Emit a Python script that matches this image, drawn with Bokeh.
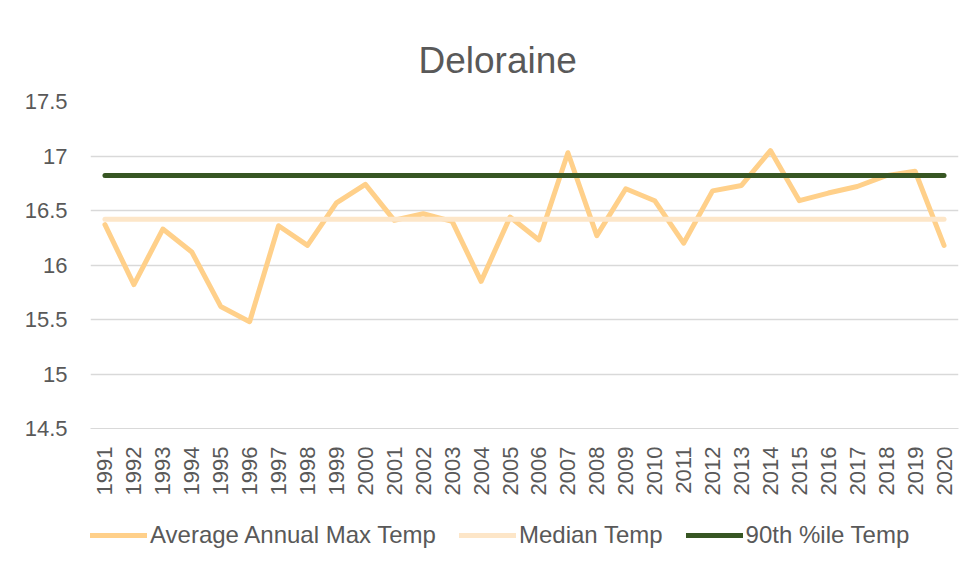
import math
from bokeh.plotting import figure
from bokeh.layouts import column
from bokeh.models import FactorRange, Range1d, FixedTicker, NumeralTickFormatter, Legend, LegendItem
from bokeh.embed import file_html
from bokeh.resources import INLINE

# ---- data ----
years = [str(y) for y in range(1991, 2021)]
avg_max = [16.37, 15.82, 16.33, 16.12, 15.62, 15.48, 16.36, 16.18, 16.57, 16.74,
           16.41, 16.47, 16.40, 15.85, 16.44, 16.23, 17.03, 16.27, 16.70, 16.59,
           16.20, 16.68, 16.73, 17.05, 16.59, 16.66, 16.72, 16.82, 16.86, 16.18]
median_value = 16.42
p90_value = 16.82
median_temp = [median_value for _ in years]
p90_temp = [p90_value for _ in years]
y_ticks = [14.5, 15, 15.5, 16, 16.5, 17, 17.5]
series_names = ["Average Annual Max Temp", "Median Temp", "90th %ile Temp"]
series_colors = ["#FFD08A", "#FDE6C8", "#375623"]
series_values = [avg_max, median_temp, p90_temp]

FONT = "Liberation Sans"
TXT = "#595959"

x_range = FactorRange(*years)
p = figure(x_range=x_range, y_range=Range1d(14.5, 17.5),
           frame_width=868, frame_height=327, output_backend="svg", toolbar_location=None,
           min_border_left=90, min_border_right=19, min_border_top=101, min_border_bottom=88)
p.outline_line_color = None
p.background_fill_color = "white"
p.border_fill_color = "white"

for vals, col in zip(series_values, series_colors):
    p.line(years, vals, line_color=col, line_width=5, line_cap="round", line_join="round")

# title
p.title.text = "Deloraine"
p.title.text_font = FONT
p.title.text_font_size = "37px"
p.title.text_font_style = "normal"
p.title.text_color = TXT
p.title.align = "left"
p.title.offset = 328
p.title.standoff = 41

# axes
p.yaxis.ticker = FixedTicker(ticks=y_ticks)
p.yaxis.formatter = NumeralTickFormatter(format="0.[0]")
p.yaxis.axis_line_color = None
p.xaxis.axis_line_color = "#d9d9d9"
for ax in (p.xaxis, p.yaxis):
    ax.major_tick_line_color = None
    ax.minor_tick_line_color = None
    ax.major_tick_out = 0
    ax.major_tick_in = 0
    ax.major_label_text_font = FONT
    ax.major_label_text_font_size = "22px"
    ax.major_label_text_color = TXT
p.yaxis.major_label_standoff = 23
p.xaxis.major_label_standoff = 18
p.xaxis.major_label_orientation = math.pi / 2

p.xgrid.grid_line_color = None
p.ygrid.grid_line_color = "#d9d9d9"
p.ygrid.grid_line_width = 1.5

# ---- legend strip (separate small figure under the chart) ----
# The same series are drawn here but fall outside this strip's y-range, so only
# their legend entries are visible.
p2 = figure(width=977, height=55, output_backend="svg", toolbar_location=None,
            x_range=x_range, y_range=Range1d(0, 1),
            x_axis_type=None, y_axis_type=None, min_border=0)
p2.title = None
p2.grid.visible = False
p2.outline_line_color = None
p2.background_fill_color = "white"
p2.border_fill_color = "white"

items = []
for name, vals, col in zip(series_names, series_values, series_colors):
    rr = p2.line(years, vals, line_color=col, line_width=5, line_cap="round")
    items.append(LegendItem(label=name, renderers=[rr]))

legend = Legend(items=items, orientation="horizontal", location=(0, 22),
                label_text_font=FONT, label_text_font_size="24px", label_text_color=TXT,
                glyph_width=57, glyph_height=28, label_height=28,
                label_standoff=3, spacing=23, padding=0, margin=0,
                border_line_color=None, background_fill_alpha=0)
p2.add_layout(legend)

layout = column(p, p2, spacing=0)
open("out.html", "w").write(file_html(layout, INLINE))
